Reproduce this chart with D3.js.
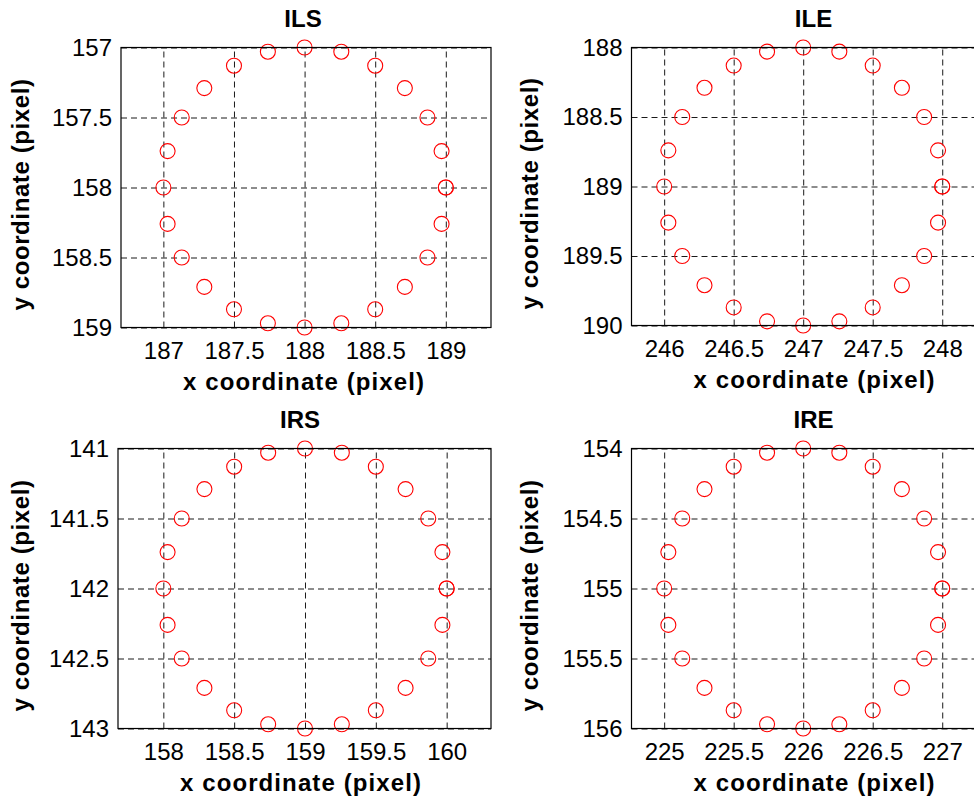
<!DOCTYPE html>
<html>
<head>
<meta charset="utf-8">
<script src="https://cdn.jsdelivr.net/npm/d3@7"></script>
<style>
  html, body { margin: 0; padding: 0; background: #fff; }
  svg { display: block; font-family: "Liberation Sans", Arial, Helvetica, sans-serif; }
</style>
</head>
<body>
<svg id="chart" width="974" height="803"></svg>
<script>
// ---------------- data ----------------
const titles = ["ILS", "ILE", "IRS", "IRE"];

// axis limits
const xLimILS = [186.70, 189.32];
const yLimILS = [157, 159];
const xLimILE = [245.765, 248.43];
const yLimILE = [188, 190];
const xLimIRS = [157.68, 160.313];
const yLimIRS = [141, 143];
const xLimIRE = [224.765, 227.43];
const yLimIRE = [154, 156];

// tick labels
const xTicksILS = [187, 187.5, 188, 188.5, 189];
const yTicksILS = [157, 157.5, 158, 158.5, 159];
const xTicksILE = [246, 246.5, 247, 247.5, 248];
const yTicksILE = [188, 188.5, 189, 189.5, 190];
const xTicksIRS = [158, 158.5, 159, 159.5, 160];
const yTicksIRS = [141, 141.5, 142, 142.5, 143];
const xTicksIRE = [225, 225.5, 226, 226.5, 227];
const yTicksIRE = [154, 154.5, 155, 155.5, 156];

// measured points (25 points, first and last coincide)
const xILS = [189, 188.97, 188.87, 188.71, 188.5, 188.26, 188, 187.74, 187.5, 187.29, 187.13, 187.03, 187, 187.03, 187.13, 187.29, 187.5, 187.74, 188, 188.26, 188.5, 188.71, 188.87, 188.97, 189];
const yILS = [158, 157.74, 157.5, 157.29, 157.13, 157.03, 157, 157.03, 157.13, 157.29, 157.5, 157.74, 158, 158.26, 158.5, 158.71, 158.87, 158.97, 159, 158.97, 158.87, 158.71, 158.5, 158.26, 158];

const xILE = [248, 247.97, 247.87, 247.71, 247.5, 247.26, 247, 246.74, 246.5, 246.29, 246.13, 246.03, 246, 246.03, 246.13, 246.29, 246.5, 246.74, 247, 247.26, 247.5, 247.71, 247.87, 247.97, 248];
const yILE = [189, 188.74, 188.5, 188.29, 188.13, 188.03, 188, 188.03, 188.13, 188.29, 188.5, 188.74, 189, 189.26, 189.5, 189.71, 189.87, 189.97, 190, 189.97, 189.87, 189.71, 189.5, 189.26, 189];

const xIRS = [160, 159.97, 159.87, 159.71, 159.5, 159.26, 159, 158.74, 158.5, 158.29, 158.13, 158.03, 158, 158.03, 158.13, 158.29, 158.5, 158.74, 159, 159.26, 159.5, 159.71, 159.87, 159.97, 160];
const yIRS = [142, 141.74, 141.5, 141.29, 141.13, 141.03, 141, 141.03, 141.13, 141.29, 141.5, 141.74, 142, 142.26, 142.5, 142.71, 142.87, 142.97, 143, 142.97, 142.87, 142.71, 142.5, 142.26, 142];

const xIRE = [227, 226.97, 226.87, 226.71, 226.5, 226.26, 226, 225.74, 225.5, 225.29, 225.13, 225.03, 225, 225.03, 225.13, 225.29, 225.5, 225.74, 226, 226.26, 226.5, 226.71, 226.87, 226.97, 227];
const yIRE = [155, 154.74, 154.5, 154.29, 154.13, 154.03, 154, 154.03, 154.13, 154.29, 154.5, 154.74, 155, 155.26, 155.5, 155.71, 155.87, 155.97, 156, 155.97, 155.87, 155.71, 155.5, 155.26, 155];

const xLabel = "x coordinate (pixel)";
const yLabel = "y coordinate (pixel)";

// ---------------- layout ----------------
const layout = [
  { left: 121,   right: 491,  top: 47.5,  bottom: 327.5, yLabX: 29 },
  { left: 631.5, right: 1002, top: 47.5,  bottom: 325.5, yLabX: 538 },
  { left: 118,   right: 491,  top: 448.5, bottom: 728.5, yLabX: 29 },
  { left: 631.5, right: 1002, top: 448.5, bottom: 728.5, yLabX: 538 }
];

const panels = [
  { xLim: xLimILS, yLim: yLimILS, xT: xTicksILS, yT: yTicksILS, xs: xILS, ys: yILS },
  { xLim: xLimILE, yLim: yLimILE, xT: xTicksILE, yT: yTicksILE, xs: xILE, ys: yILE },
  { xLim: xLimIRS, yLim: yLimIRS, xT: xTicksIRS, yT: yTicksIRS, xs: xIRS, ys: yIRS },
  { xLim: xLimIRE, yLim: yLimIRE, xT: xTicksIRE, yT: yTicksIRE, xs: xIRE, ys: yIRE }
];

const svg = d3.select("#chart");
const fmt = d => String(d);

panels.forEach((p, i) => {
  const L = layout[i];
  const w = L.right - L.left, h = L.bottom - L.top;
  const x = d3.scaleLinear().domain(p.xLim).range([0, w]);
  const y = d3.scaleLinear().domain(p.yLim).range([0, h]); // reversed y (image coords)

  const g = svg.append("g").attr("transform", `translate(${L.left},${L.top})`);

  // grid
  const gx = g.append("g").attr("class", "grid")
    .attr("transform", `translate(0,${h})`)
    .call(d3.axisBottom(x).tickValues(p.xT).tickSize(-h).tickFormat(""));
  const gy = g.append("g").attr("class", "grid")
    .call(d3.axisLeft(y).tickValues(p.yT).tickSize(-w).tickFormat(""));
  [gx, gy].forEach(a => {
    a.select(".domain").remove();
    a.selectAll("line").attr("stroke", "#1a1a1a").attr("stroke-width", 1).attr("stroke-dasharray", "6,4");
  });

  // tick labels
  const ax = g.append("g").attr("transform", `translate(0,${h})`)
    .call(d3.axisBottom(x).tickValues(p.xT).tickSize(0).tickPadding(14).tickFormat(fmt));
  const ay = g.append("g")
    .call(d3.axisLeft(y).tickValues(p.yT).tickSize(0).tickPadding(9).tickFormat(fmt));
  [ax, ay].forEach(a => {
    a.select(".domain").remove();
    a.selectAll("text").attr("font-size", 24).attr("fill", "#000")
      .attr("font-family", '"Liberation Sans", Arial, sans-serif');
  });

  // markers
  g.selectAll("circle.pt").data(p.xs.map((v, k) => [v, p.ys[k]]))
    .enter().append("circle").attr("class", "pt")
    .attr("cx", d => x(d[0])).attr("cy", d => y(d[1]))
    .attr("r", 7.5)
    .attr("fill", "none").attr("stroke", "#ff0000").attr("stroke-width", 1.1);

  // box
  g.append("rect").attr("x", 0).attr("y", 0).attr("width", w).attr("height", h)
    .attr("fill", "none").attr("stroke", "#000").attr("stroke-width", 1.2);

  // title
  svg.append("text")
    .attr("x", (L.left + Math.min(L.right, L.left + 370)) / 2 - 3)
    .attr("y", L.top - 21)
    .attr("text-anchor", "middle").attr("font-size", 24).attr("font-weight", "bold")
    .text(titles[i]);

  // x label
  const cx = (L.left + Math.min(L.right, L.left + 370)) / 2 - 2;
  svg.append("text")
    .attr("x", cx).attr("y", L.bottom + 62)
    .attr("text-anchor", "middle").attr("font-size", 24).attr("font-weight", "bold")
    .attr("letter-spacing", 1.1)
    .text(xLabel);

  // y label
  const cy = (L.top + L.bottom) / 2 + 7;
  svg.append("text")
    .attr("transform", `translate(${L.yLabX},${cy}) rotate(-90)`)
    .attr("text-anchor", "middle").attr("font-size", 24).attr("font-weight", "bold")
    .attr("letter-spacing", 0.6)
    .text(yLabel);
});
</script>
</body>
</html>
